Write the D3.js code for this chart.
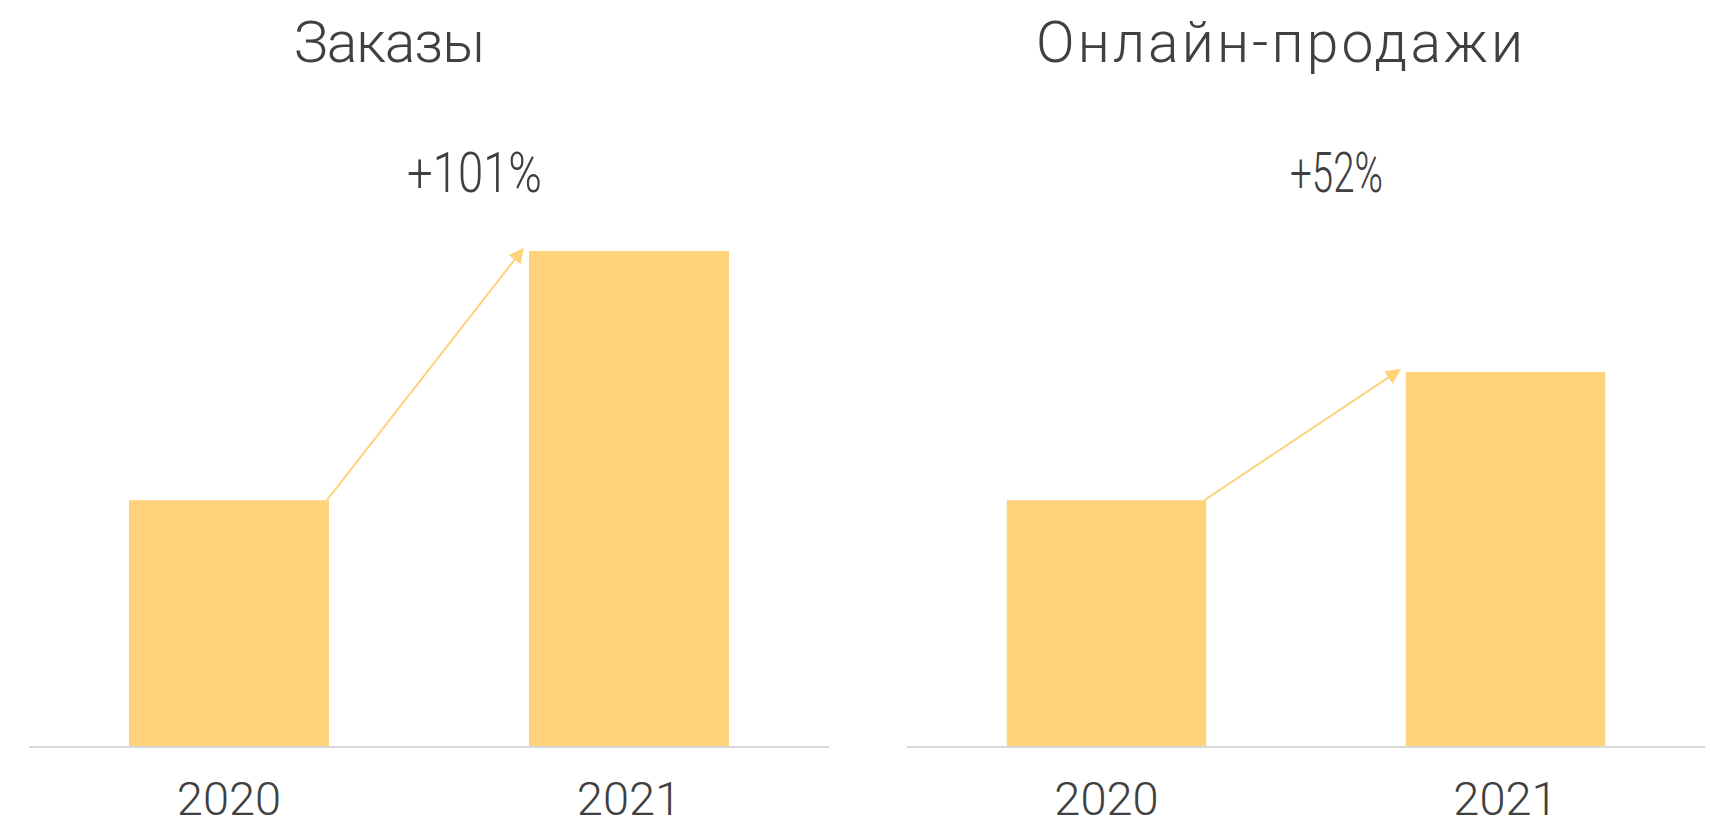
<!DOCTYPE html>
<html>
<head>
<meta charset="utf-8">
<script src="https://cdn.jsdelivr.net/npm/d3@7"></script>
<style>
  html, body { margin: 0; padding: 0; background: #ffffff; }
  svg { display: block; }
  text { font-family: "Roboto", "Noto Sans", sans-serif; font-weight: 300; fill: #404040; }
</style>
</head>
<body>
<svg id="chart" width="1710" height="827"></svg>
<script>
// ---- data ----
const years = ["2020", "2021"];
const panelTitles = ["Заказы", "Онлайн-продажи"];
const ordersValues = [100, 201];
const onlineValues = [100, 152];
const growthLabels = ["+101%", "+52%"];

const seriesList = [ordersValues, onlineValues];

// ---- layout ----
const W = 1710, H = 827;
const baseY = 747, topY = 251;
const panels = [
  { x0: 29, x1: 829, titleX: 294, titleW: 191, labelX: 407, labelW: 135 },
  { x0: 907, x1: 1705, titleX: 1036, titleW: 487, labelX: 1290, labelW: 93 }
];
const barColor = "#FED37A";

const svg = d3.select("#chart");

const defs = svg.append("defs");
defs.append("marker")
  .attr("id", "arrowhead")
  .attr("viewBox", "0 0 10 10")
  .attr("refX", 9).attr("refY", 5)
  .attr("markerWidth", 16).attr("markerHeight", 15)
  .attr("markerUnits", "userSpaceOnUse")
  .attr("orient", "auto")
  .append("path")
  .attr("d", "M0,0 L10,5 L0,10 Z")
  .attr("fill", barColor);

const y = d3.scaleLinear().domain([0, 201]).range([baseY, topY]);

panels.forEach((p, i) => {
  const values = seriesList[i];
  const x = d3.scaleBand().domain(years).range([p.x0, p.x1])
    .paddingInner(0.5).paddingOuter(0.25);
  const g = svg.append("g");

  // bars
  g.selectAll("rect.bar").data(years).enter().append("rect")
    .attr("class", "bar")
    .attr("x", d => x(d))
    .attr("y", (d, j) => y(values[j]))
    .attr("width", x.bandwidth())
    .attr("height", (d, j) => y(0) - y(values[j]))
    .attr("fill", barColor);

  // baseline axis
  const axis = d3.axisBottom(x).tickSize(0).tickPadding(40);
  const ax = g.append("g").attr("transform", `translate(0,${baseY})`).call(axis);
  ax.select(".domain").attr("stroke", "#d9d9d9").attr("stroke-width", 2)
    .attr("d", `M${p.x0},0H${p.x1}`);
  ax.selectAll(".tick text")
    .attr("dy", null)
    .attr("y", 68)
    .style("font-family", "Roboto, 'Noto Sans', sans-serif")
    .style("font-weight", 300)
    .style("font-size", "47px")
    .attr("fill", "#404040");

  // arrow
  const xs = x(years[0]) + x.bandwidth() - 2;
  const ys = y(values[0]);
  const xe = x(years[1]) - 6;
  const ye = y(values[1]) - 2;
  g.append("line")
    .attr("x1", xs).attr("y1", ys)
    .attr("x2", xe).attr("y2", ye)
    .attr("stroke", barColor)
    .attr("stroke-width", 2)
    .attr("marker-end", "url(#arrowhead)");

  // title
  g.append("text")
    .attr("x", p.titleX).attr("y", 62)
    .attr("textLength", p.titleW)
    .attr("lengthAdjust", "spacing")
    .style("font-size", "57px")
    .text(panelTitles[i]);

  // growth label
  g.append("text")
    .attr("x", p.labelX).attr("y", 192)
    .attr("textLength", p.labelW)
    .attr("lengthAdjust", "spacingAndGlyphs")
    .style("font-size", "55px")
    .text(growthLabels[i]);
});
</script>
</body>
</html>
